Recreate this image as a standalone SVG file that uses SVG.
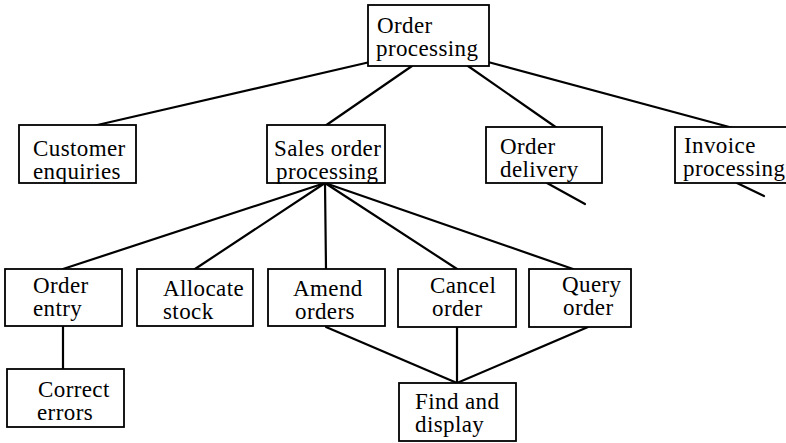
<svg xmlns="http://www.w3.org/2000/svg" width="786" height="443" viewBox="0 0 786 443">
  <style>
    .box { fill: #fff; stroke: #000; stroke-width: 1.8; }
    .lbl { font-family: "Liberation Serif", "Times New Roman", serif; font-size: 23px; letter-spacing: 0.4px; fill: #000; }
    .wire { stroke: #000; stroke-width: 2.2; fill: none; stroke-linecap: round; }
  </style>
  <rect width="786" height="443" fill="#fff"/>
  <g id="connectors">
    <line class="wire" x1="370" y1="62" x2="93" y2="126"/>
    <line class="wire" x1="412" y1="66" x2="325" y2="126"/>
    <line class="wire" x1="468" y1="66" x2="557" y2="128"/>
    <line class="wire" x1="488" y1="62" x2="733" y2="128"/>
    <line class="wire" x1="547" y1="183" x2="585" y2="204"/>
    <line class="wire" x1="737" y1="183" x2="764" y2="196"/>
    <line class="wire" x1="325" y1="183" x2="63" y2="269"/>
    <line class="wire" x1="325" y1="183" x2="195" y2="269"/>
    <line class="wire" x1="325" y1="183" x2="326" y2="269"/>
    <line class="wire" x1="325" y1="183" x2="457" y2="269"/>
    <line class="wire" x1="325" y1="183" x2="573" y2="269"/>
    <line class="wire" x1="63" y1="326" x2="63" y2="370"/>
    <line class="wire" x1="326" y1="327" x2="457" y2="383"/>
    <line class="wire" x1="457" y1="327" x2="457" y2="383"/>
    <line class="wire" x1="588" y1="327" x2="457" y2="383"/>
  </g>
  <g id="order-processing">
    <rect class="box" x="368" y="5" width="121" height="61"/>
    <text class="lbl" x="377" y="33">Order</text>
    <text class="lbl" x="376" y="56">processing</text>
  </g>
  <g id="customer-enquiries">
    <rect class="box" x="19" y="125" width="117" height="58"/>
    <text class="lbl" x="33" y="156">Customer</text>
    <text class="lbl" x="33" y="179">enquiries</text>
  </g>
  <g id="sales-order-processing">
    <rect class="box" x="267" y="125" width="118" height="58"/>
    <text class="lbl" x="274" y="156">Sales order</text>
    <text class="lbl" x="276" y="179">processing</text>
  </g>
  <g id="order-delivery">
    <rect class="box" x="486" y="127" width="116" height="56"/>
    <text class="lbl" x="500" y="154">Order</text>
    <text class="lbl" x="500" y="177">delivery</text>
  </g>
  <g id="invoice-processing">
    <rect class="box" x="675" y="127" width="116" height="56"/>
    <text class="lbl" x="684" y="153">Invoice</text>
    <text class="lbl" x="683" y="176">processing</text>
  </g>
  <g id="order-entry">
    <rect class="box" x="5" y="269" width="117" height="57"/>
    <text class="lbl" x="33" y="293">Order</text>
    <text class="lbl" x="33" y="316">entry</text>
  </g>
  <g id="allocate-stock">
    <rect class="box" x="137" y="269" width="116" height="57"/>
    <text class="lbl" x="163" y="296">Allocate</text>
    <text class="lbl" x="163" y="319">stock</text>
  </g>
  <g id="amend-orders">
    <rect class="box" x="268" y="269" width="117" height="57"/>
    <text class="lbl" x="293" y="296">Amend</text>
    <text class="lbl" x="295" y="319">orders</text>
  </g>
  <g id="cancel-order">
    <rect class="box" x="398" y="269" width="118" height="58"/>
    <text class="lbl" x="430" y="293">Cancel</text>
    <text class="lbl" x="432" y="316">order</text>
  </g>
  <g id="query-order">
    <rect class="box" x="529" y="269" width="102" height="58"/>
    <text class="lbl" x="562" y="292">Query</text>
    <text class="lbl" x="563" y="315">order</text>
  </g>
  <g id="correct-errors">
    <rect class="box" x="7" y="369" width="117" height="58"/>
    <text class="lbl" x="38" y="397">Correct</text>
    <text class="lbl" x="37" y="420">errors</text>
  </g>
  <g id="find-and-display">
    <rect class="box" x="399" y="383" width="117" height="58"/>
    <text class="lbl" x="415" y="409">Find and</text>
    <text class="lbl" x="415" y="432">display</text>
  </g>
</svg>
